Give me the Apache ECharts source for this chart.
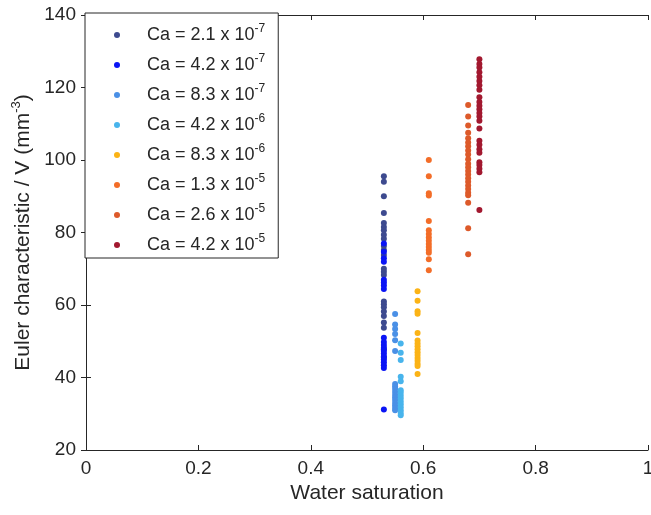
<!DOCTYPE html>
<html>
<head>
<meta charset="utf-8">
<script src="https://cdn.jsdelivr.net/npm/echarts@6/dist/echarts.min.js"></script>
<style>
  html, body { margin: 0; padding: 0; background: #fff; }
  #scatterChart { width: 651px; height: 515px; }
</style>
</head>
<body>
<div id="scatterChart"></div>
<script>
// capillary number labels (mantissa x 10^exponent)
const caMantissa = ['2.1', '4.2', '8.3', '4.2', '8.3', '1.3', '2.6', '4.2'];
const caExponent = ['-7', '-7', '-7', '-6', '-6', '-5', '-5', '-5'];
const caColors = ['#3d4a8f', '#0a14f5', '#4a90e6', '#48b4ec', '#fbb316', '#f36d28', '#dd5a2a', '#a2182f'];

// water saturation of each run
const satByCa = [0.53, 0.53, 0.55, 0.56, 0.59, 0.61, 0.68, 0.70];

// Euler characteristic / V values
const euler21e7 = [95.5, 94.0, 90.0, 85.4, 82.6, 81.5, 80.6, 79.4, 78.3, 76.3, 75.2, 73.8, 70.0, 69.2,
  68.3, 61.0, 60.2, 59.4, 58.2, 57.0, 55.2, 53.7, 47.8, 45.5];
const euler42e7 = [77.0, 74.7, 72.9, 71.9, 67.0, 66.2, 65.4, 64.4, 51.0, 49.8, 49.0, 48.2, 47.4, 46.6,
  45.8, 45.0, 44.2, 43.4, 42.6, 31.2];
const euler83e7 = [57.5, 54.6, 53.4, 52.0, 50.3, 47.3, 38.2, 37.5, 36.8, 36.0, 35.2, 34.5, 33.8, 33.0,
  32.3, 31.6, 31.0];
const euler42e6 = [49.4, 46.8, 44.8, 40.2, 39.0, 36.5, 35.8, 35.0, 34.2, 33.4, 32.6, 31.8, 31.0, 30.2, 29.6];
const euler83e6 = [63.8, 61.2, 58.3, 57.6, 52.3, 50.2, 49.4, 48.6, 47.8, 47.0, 46.2, 45.4, 44.6, 43.8,
  43.2, 41.0];
const euler13e5 = [100.0, 95.5, 90.8, 90.2, 83.2, 80.6, 79.6, 78.6, 77.7, 76.8, 76.0, 75.2, 74.4, 72.6, 69.6];
const euler26e5 = [115.2, 112.0, 109.5, 107.5, 106.0, 104.8, 103.8, 102.6, 101.5, 100.2, 99.0, 98.0, 97.0,
  96.0, 95.0, 94.0, 93.0, 92.0, 91.0, 90.3, 88.2, 81.2, 74.0];
const euler42e5 = [127.8, 126.5, 125.5, 124.2, 123.0, 121.8, 120.6, 119.4, 117.3, 116.0, 115.0, 114.0, 113.0,
  112.0, 110.8, 108.7, 105.3, 104.2, 103.0, 102.0, 99.4, 98.6, 97.6, 96.6, 86.2];
const eulerByCa = [euler21e7, euler42e7, euler83e7, euler42e6, euler83e6, euler13e5, euler26e5, euler42e5];

// axis ticks
const xTicks = [0, 0.2, 0.4, 0.6, 0.8, 1];
const yTicks = [20, 40, 60, 80, 100, 120, 140];

const textColor = '#262626';
const fontFamily = 'Liberation Sans, Arial, sans-serif';

const seriesNames = caMantissa.map((m, i) => 'Ca = ' + m + ' x 10^' + caExponent[i]);

const myChart = echarts.init(document.getElementById('scatterChart'));

const axisCommon = {
  axisLine: { show: true, lineStyle: { color: textColor, width: 1 } },
  axisTick: { show: true, inside: true, length: 5, lineStyle: { color: textColor } },
  splitLine: { show: false }
};

const option = {
  backgroundColor: '#fff',
  animation: false,
  textStyle: { fontFamily: fontFamily },
  grid: { left: 86, right: 3, top: 15, bottom: 65, outerBoundsMode: 'none', containLabel: false },
  legend: {
    orient: 'vertical',
    left: 85,
    top: 13,
    padding: [10, 13, 4, 29],
    itemGap: 9,
    itemWidth: 6,
    itemHeight: 6,
    icon: 'circle',
    backgroundColor: '#fff',
    borderColor: textColor,
    borderWidth: 1,
    borderRadius: 0,
    data: seriesNames,
    formatter: function (name) {
      const parts = name.split('^');
      return '{sp|}{b|' + parts[0] + '}{sup|' + parts[1] + '}';
    },
    textStyle: {
      color: textColor,
      fontSize: 18,
      fontFamily: fontFamily,
      rich: {
        sp: { width: 22 },
        b: { fontSize: 18, color: textColor, fontFamily: fontFamily, lineHeight: 20 },
        sup: { fontSize: 12, color: textColor, fontFamily: fontFamily, padding: [0, 0, 12, 0] }
      }
    }
  },
  xAxis: [
    Object.assign({}, axisCommon, {
      type: 'value',
      min: xTicks[0],
      max: xTicks[xTicks.length - 1],
      interval: 0.2,
      position: 'bottom',
      name: 'Water saturation',
      nameLocation: 'middle',
      nameGap: 33,
      nameTextStyle: { color: textColor, fontSize: 21, fontFamily: fontFamily },
      axisLabel: { color: textColor, fontSize: 19, margin: 9, fontFamily: fontFamily }
    }),
    Object.assign({}, axisCommon, {
      type: 'value',
      min: xTicks[0],
      max: xTicks[xTicks.length - 1],
      interval: 0.2,
      position: 'top',
      axisLabel: { show: false }
    })
  ],
  yAxis: [
    Object.assign({}, axisCommon, {
      type: 'value',
      min: yTicks[0],
      max: yTicks[yTicks.length - 1],
      interval: 20,
      position: 'left',
      name: '{a|Euler characteristic / V (mm}{s|-3}{a|)}',
      nameLocation: 'middle',
      nameGap: 49,
      nameTextStyle: {
        color: textColor,
        fontSize: 21,
        fontFamily: fontFamily,
        rich: {
          a: { fontSize: 21, color: textColor, fontFamily: fontFamily },
          s: { fontSize: 13, color: textColor, fontFamily: fontFamily, padding: [0, 0, 12, 0] }
        }
      },
      axisLabel: { color: textColor, fontSize: 19, margin: 10, fontFamily: fontFamily }
    }),
    Object.assign({}, axisCommon, {
      type: 'value',
      min: yTicks[0],
      max: yTicks[yTicks.length - 1],
      interval: 20,
      position: 'right',
      axisLabel: { show: false }
    })
  ],
  series: seriesNames.map((name, i) => ({
    name: name,
    type: 'scatter',
    xAxisIndex: 0,
    yAxisIndex: 0,
    symbol: 'circle',
    symbolSize: 6,
    itemStyle: { color: caColors[i], opacity: 1 },
    data: eulerByCa[i].map(v => [satByCa[i], v])
  }))
};

myChart.setOption(option);
</script>
</body>
</html>
